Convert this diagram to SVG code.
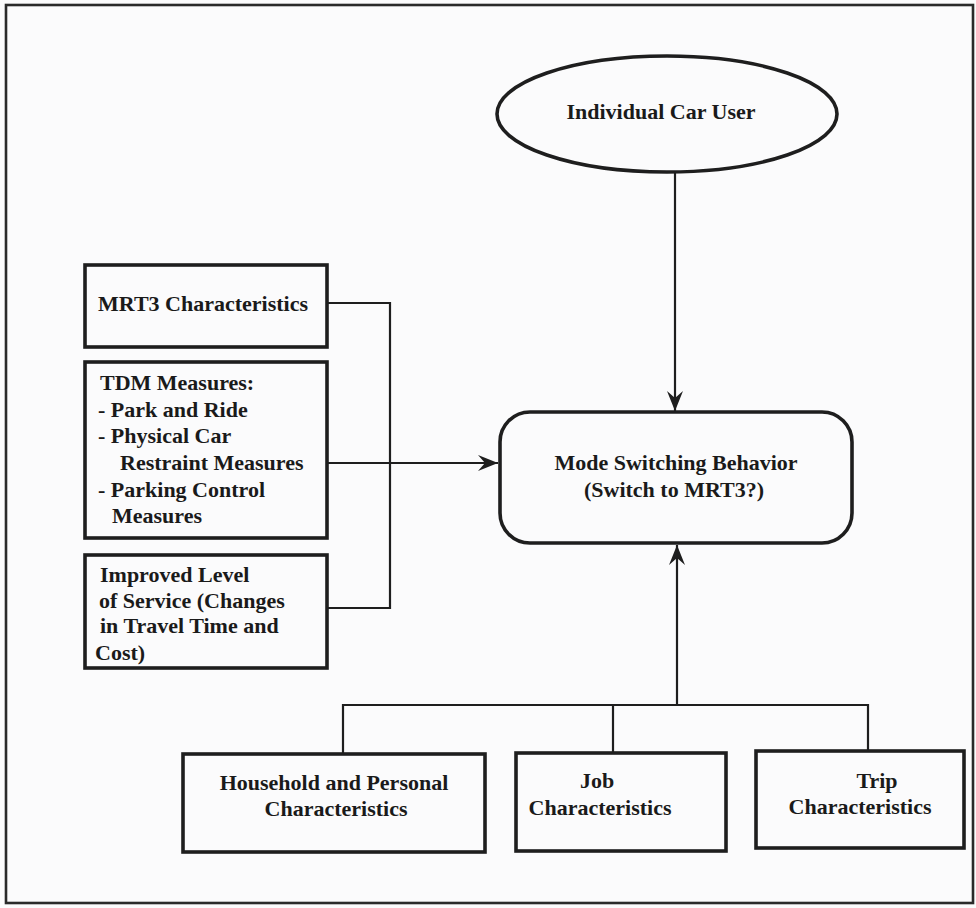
<svg xmlns="http://www.w3.org/2000/svg" width="976" height="908" viewBox="0 0 976 908">
<defs>
<style>
.box{fill:none;stroke:#1e1e1e;stroke-width:3.6}
.ln{fill:none;stroke:#1e1e1e;stroke-width:2.2}
text{font-family:"Liberation Serif","Times New Roman",serif;font-weight:bold;font-size:22px;fill:#1a1a1a}
.c{text-anchor:middle}
</style>
<marker id="arr" markerUnits="userSpaceOnUse" markerWidth="22" markerHeight="18" viewBox="-21 -9 22 18" refX="0" refY="0" orient="auto">
<path d="M0,0 L-20,-8 L-13,0 L-20,8 Z" fill="#1e1e1e"/>
</marker>
</defs>
<rect width="976" height="908" fill="#fbfbfc"/>
<rect x="6" y="5" width="967" height="898" fill="none" stroke="#2a2a2a" stroke-width="2.6"/>

<g id="connectors">
<line class="ln" x1="675" y1="172" x2="675" y2="411" marker-end="url(#arr)"/>
<polyline class="ln" points="327,303 390,303 390,608 327,608"/>
<line class="ln" x1="327" y1="463" x2="498" y2="463" marker-end="url(#arr)"/>
<line class="ln" x1="677" y1="705" x2="677" y2="545" marker-end="url(#arr)"/>
<polyline class="ln" points="343,754 343,705 868,705 868,751"/>
<line class="ln" x1="613" y1="705" x2="613" y2="753"/>
</g>

<g id="car-user">
<ellipse class="box" cx="667" cy="114" rx="170" ry="58"/>
<text class="c" x="661" y="119">Individual Car User</text>
</g>

<g id="mode-switching">
<rect class="box" x="500" y="412" width="352" height="131" rx="30"/>
<text class="c" x="676" y="470">Mode Switching Behavior</text>
<text class="c" x="674" y="497">(Switch to MRT3?)</text>
</g>

<g id="mrt3">
<rect class="box" x="85" y="265" width="242" height="82"/>
<text x="98" y="311">MRT3 Characteristics</text>
</g>

<g id="tdm">
<rect class="box" x="85" y="362" width="242" height="176"/>
<text x="100" y="390">TDM Measures:</text>
<text x="98" y="417">- Park and Ride</text>
<text x="98" y="443">- Physical Car</text>
<text x="120" y="470">Restraint Measures</text>
<text x="98" y="497">- Parking Control</text>
<text x="112" y="523">Measures</text>
</g>

<g id="los">
<rect class="box" x="85" y="555" width="242" height="113"/>
<text x="100" y="582">Improved Level</text>
<text x="99" y="608">of Service (Changes</text>
<text x="100" y="633">in Travel Time and</text>
<text x="95" y="660">Cost)</text>
</g>

<g id="household">
<rect class="box" x="183" y="754" width="302" height="98"/>
<text class="c" x="334" y="790">Household and Personal</text>
<text class="c" x="336" y="816">Characteristics</text>
</g>

<g id="job">
<rect class="box" x="516" y="753" width="210" height="98"/>
<text class="c" x="597" y="788">Job</text>
<text class="c" x="600" y="815">Characteristics</text>
</g>

<g id="trip">
<rect class="box" x="756" y="751" width="208" height="97"/>
<text class="c" x="877" y="788">Trip</text>
<text class="c" x="860" y="814">Characteristics</text>
</g>
</svg>
